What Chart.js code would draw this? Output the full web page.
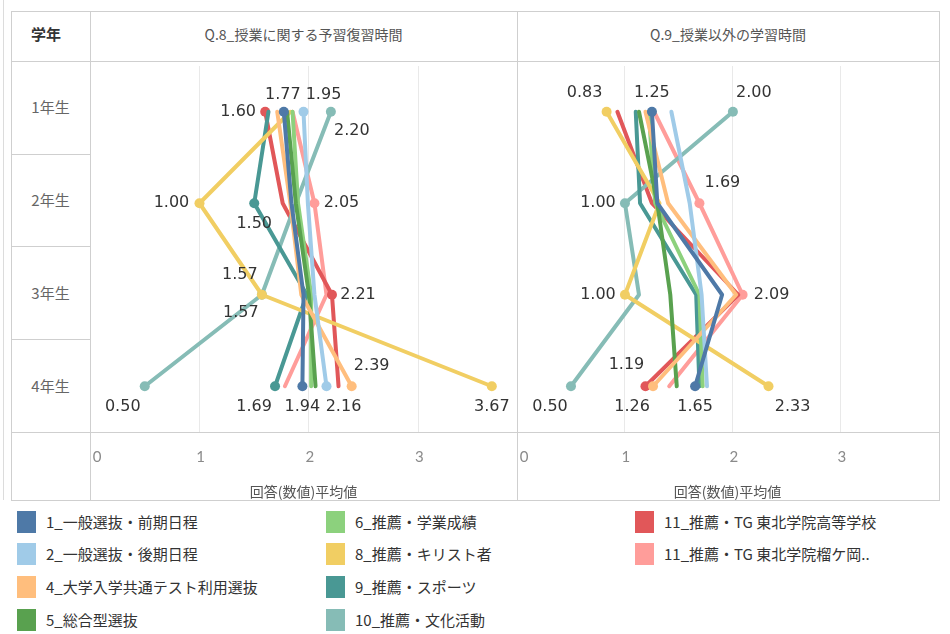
<!DOCTYPE html>
<html>
<head>
<meta charset="utf-8">
<script src="https://cdn.jsdelivr.net/npm/chart.js@4.4.1/dist/chart.umd.min.js"></script>
<style>
  body { margin: 0; background: #fff; font-family: "Noto Sans CJK JP", sans-serif; }
  #wrap { position: relative; width: 950px; height: 634px; overflow: hidden; }
  .ln { position: absolute; background: #cfcfcf; }
  .txt { position: absolute; white-space: nowrap; }
  canvas { position: absolute; }
  .lg { position: absolute; font-size: 15px; color: #333; white-space: nowrap; }
  .lg span { position: absolute; left: 0; top: -11px; width: 19px; height: 22px; }
  .lg b { position: absolute; left: 29px; top: -11px; font-weight: normal; }
</style>
</head>
<body>
<div id="wrap">
  <div class="ln" style="left:3px;top:0;width:1px;height:500px;background:#dcdcdc"></div>
  <div class="ln" style="left:11px;top:11px;width:928px;height:1px"></div>
  <div class="ln" style="left:11px;top:500px;width:928px;height:1px"></div>
  <div class="ln" style="left:11px;top:11px;width:1px;height:490px"></div>
  <div class="ln" style="left:939px;top:11px;width:1px;height:490px"></div>
  <div class="ln" style="left:11px;top:61px;width:928px;height:1px"></div>
  <div class="ln" style="left:11px;top:432px;width:928px;height:1px"></div>
  <div class="ln" style="left:90px;top:11px;width:1px;height:490px"></div>
  <div class="ln" style="left:517px;top:11px;width:1px;height:490px"></div>
  <div class="ln" style="left:11px;top:154px;width:79px;height:1px"></div>
  <div class="ln" style="left:11px;top:246px;width:79px;height:1px"></div>
  <div class="ln" style="left:11px;top:339px;width:79px;height:1px"></div>

  <div class="txt" style="left:31px;top:23px;font-size:15px;font-weight:bold;color:#333">学年</div>
  <div class="txt" style="left:90px;width:427px;top:24px;text-align:center;font-size:14px;color:#555">Q.8_授業に関する予習復習時間</div>
  <div class="txt" style="left:517px;width:422px;top:24px;text-align:center;font-size:14px;color:#555">Q.9_授業以外の学習時間</div>
  <div id="rowLabels"></div>

  <canvas id="q8" width="447" height="439" style="left:80px;top:61px"></canvas>
  <canvas id="q9" width="441" height="439" style="left:507px;top:61px"></canvas>
  <div id="legend"></div>
</div>
<script>
var grades = ['1年生', '2年生', '3年生', '4年生'];
var seriesNames = [
  '1_一般選抜・前期日程', '2_一般選抜・後期日程', '4_大学入学共通テスト利用選抜', '5_総合型選抜',
  '6_推薦・学業成績', '8_推薦・キリスト者', '9_推薦・スポーツ', '10_推薦・文化活動',
  '11_推薦・TG 東北学院高等学校', '11_推薦・TG 東北学院榴ケ岡..'
];
var seriesColors = ['#4e79a7', '#a0cbe8', '#ffbe7d', '#59a14f', '#8cd17d',
  '#f1ce63', '#499894', '#86bcb6', '#e15759', '#ff9d9a'];
var xTicks = [0, 1, 2, 3];

// Q.8 予習復習時間 (1年生..4年生)
var q8 = [
  [1.77, 1.84, 1.95, 1.94],
  [1.95, 1.99, 2.05, 2.16],
  [1.71, 1.83, 1.93, 2.39],
  [1.80, 1.88, 2.00, 2.06],
  [1.85, 1.90, 2.02, 2.02],
  [1.83, 1.00, 1.57, 3.67],
  [1.63, 1.50, 1.98, 1.69],
  [2.20, 1.88, 1.57, 0.50],
  [1.60, 1.76, 2.21, 2.27],
  [1.85, 2.05, 2.16, 1.78]
];
// Q.9 授業以外の学習時間
var q9 = [
  [1.25, 1.30, 1.90, 1.65],
  [1.43, 1.60, 1.71, 1.76],
  [1.19, 1.40, 2.03, 1.26],
  [1.13, 1.30, 1.42, 1.48],
  [1.22, 1.28, 1.69, 1.72],
  [0.83, 1.32, 1.00, 2.33],
  [1.10, 1.14, 1.66, 1.69],
  [2.00, 1.00, 1.13, 0.50],
  [0.93, 1.25, 2.05, 1.19],
  [1.27, 1.69, 2.09, 1.41]
];

// labelled marks: [series, row, dx, dy]
var q8Labels = [
  [8, 0, -27, 0], [0, 0, -1, -17], [1, 0, 20, -17], [7, 0, 21, 19],
  [5, 1, -28, 0], [6, 1, 0, 21], [9, 1, 27, 0],
  [5, 2, -22, -20], [7, 2, -21, 18], [8, 2, 26, 0],
  [7, 3, -22, 21], [6, 3, -21, 21], [0, 3, 0, 21], [1, 3, 17, 21], [2, 3, 20, -20], [5, 3, 0, 21]
];
var q9Labels = [
  [5, 0, -22, -19], [0, 0, 0, -19], [7, 0, 21, -19],
  [7, 1, -27, 0], [9, 1, 23, -20],
  [5, 2, -27, 0], [9, 2, 29, 0],
  [7, 3, -21, 21], [8, 3, -19, -21], [2, 3, -21, 21], [0, 3, 0, 21], [5, 3, 24, 21]
];

var pointLabels = {
  id: 'pointLabels',
  afterDatasetsDraw: function (chart) {
    var ctx = chart.ctx;
    var items = chart.options.plugins.pointLabels.items;
    ctx.save();
    ctx.font = '16px "DejaVu Sans"';
    ctx.fillStyle = '#333';
    ctx.textAlign = 'center';
    ctx.textBaseline = 'middle';
    items.forEach(function (it) {
      var el = chart.getDatasetMeta(it[0]).data[it[1]];
      var v = chart.data.datasets[it[0]].data[it[1]];
      ctx.fillText(v.toFixed(2), el.x + it[2], el.y + it[3]);
    });
    ctx.restore();
  }
};

// tick labels like Tableau: the 0 label is nudged inside the pane
var tickLabels = {
  id: 'tickLabels',
  afterDraw: function (chart) {
    var ctx = chart.ctx;
    var sc = chart.scales.x;
    ctx.save();
    ctx.font = '15px Lato';
    ctx.fillStyle = '#8a8a8a';
    ctx.textAlign = 'center';
    ctx.textBaseline = 'middle';
    xTicks.forEach(function (v) {
      var px = sc.getPixelForValue(v) + (v === 0 ? 7 : 1);
      ctx.fillText(String(v), px, sc.top + 25);
    });
    ctx.restore();
  }
};

function makeChart(id, values, labels) {
  var datasets = values.map(function (vals, i) {
    var radius = vals.map(function (v, r) {
      return labels.some(function (l) { return l[0] === i && l[1] === r; }) ? 5 : 0;
    });
    return {
      label: seriesNames[i],
      data: vals,
      borderColor: seriesColors[i],
      backgroundColor: seriesColors[i],
      borderWidth: 4,
      pointRadius: radius,
      pointBorderWidth: 0,
      borderJoinStyle: 'round',
      borderCapStyle: 'round',
      tension: 0
    };
  });
  return new Chart(document.getElementById(id).getContext('2d'), {
    type: 'line',
    data: { labels: grades, datasets: datasets },
    plugins: [pointLabels, tickLabels],
    options: {
      indexAxis: 'y',
      responsive: false,
      animation: false,
      layout: { padding: { left: 10, right: 10, top: 0, bottom: 0 } },
      plugins: {
        legend: { display: false },
        tooltip: { enabled: false },
        pointLabels: { items: labels }
      },
      scales: {
        y: { type: 'category', offset: true, display: false },
        x: {
          type: 'linear', min: 0, max: 3.9,
          afterBuildTicks: function (s) { s.ticks = xTicks.map(function (v) { return { value: v }; }); },
          afterFit: function (s) { s.height = 68; s.paddingLeft = 0; s.paddingRight = 0; },
          grid: {
            drawTicks: false,
            color: function (c) { return c.tick && c.tick.value === 0 ? 'rgba(0,0,0,0)' : '#e9e9e9'; }
          },
          border: { display: false },
          ticks: { display: false },
          title: {
            display: true, text: '回答(数値)平均値', color: '#555',
            font: { family: '"Noto Sans CJK JP"', size: 14 },
            padding: { top: 8, bottom: 0 }
          }
        }
      }
    }
  });
}

document.addEventListener('DOMContentLoaded', function () {
  var rl = document.getElementById('rowLabels');
  var centers = [107, 200, 293, 386];
  grades.forEach(function (g, i) {
    var d = document.createElement('div');
    d.className = 'txt';
    d.style.cssText = 'left:11px;width:79px;text-align:center;font-size:15px;color:#666;top:' + (centers[i] - 11) + 'px';
    d.textContent = g;
    rl.appendChild(d);
  });

  var lg = document.getElementById('legend');
  var colX = [17, 326, 635];
  var rowY = [522, 554, 587, 620];
  seriesNames.forEach(function (name, i) {
    var d = document.createElement('div');
    d.className = 'lg';
    d.style.left = colX[Math.floor(i / 4)] + 'px';
    d.style.top = rowY[i % 4] + 'px';
    d.innerHTML = '<span style="background:' + seriesColors[i] + '"></span><b>' + name + '</b>';
    lg.appendChild(d);
  });

  makeChart('q8', q8, q8Labels);
  makeChart('q9', q9, q9Labels);
});
</script>
</body>
</html>
